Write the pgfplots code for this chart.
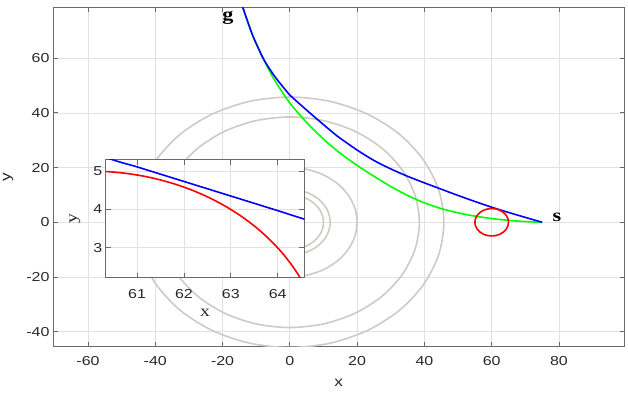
\documentclass[border=0pt]{standalone}
\usepackage{fontspec}
\setmainfont{Liberation Sans}[FakeStretch=1.23]
\newfontfamily\serif{Liberation Serif}[FakeStretch=1.23]
\usepackage{pgfplots}
\usepackage{pgfplotstable}
\pgfplotsset{compat=1.18}

\definecolor{axgray}{RGB}{105,105,105}
\definecolor{txtgray}{RGB}{40,40,40}
\definecolor{gridgray}{RGB}{225,225,225}
\definecolor{ringgray}{RGB}{207,202,195}

% path found by the planner (blue) and the reference path (green)
\pgfplotstableread{
x y
-15.2 83.0
-14.0 78.6
-11.3 69.1
-9.5 64.0
-7.65 59.3
-5.0 54.2
-2.9 50.8
0.0 46.5
1.6 44.7
5.0 41.0
8.0 37.8
10.0 35.7
13.0 32.6
15.0 30.7
20.0 26.4
25.0 22.6
30.0 19.5
35.0 16.8
40.0 14.4
45.0 12.1
50.0 9.8
55.0 7.6
60.0 5.49
61.0 5.11
62.0 4.73
63.0 4.35
64.0 3.97
65.0 3.59
70.0 1.78
75.0 0.0
}\bluepath

\pgfplotstableread{
x y
-15.2 83.0
-14.0 78.6
-11.3 69.1
-9.5 64.0
-7.65 59.2
-6.0 55.2
-4.0 50.9
0.0 43.6
5.0 36.5
10.0 30.4
15.0 25.2
20.0 20.8
25.0 16.8
30.0 13.1
35.0 9.8
40.0 7.1
45.0 5.0
50.0 3.45
55.0 2.25
60.0 1.35
65.0 0.7
70.0 0.25
75.0 0.0
}\greenpath

% obstacle around (60,0), r = 5 (starts at the hidden lower left)
\pgfplotstableread{
x y
55 0
55.170 -1.294
55.670 -2.5
56.464 -3.536
57.5 -4.330
58.706 -4.830
60 -5
61.294 -4.830
62.5 -4.330
63.536 -3.536
64.330 -2.5
64.830 -1.294
65 0
64.830 1.294
64.330 2.5
63.536 3.536
62.5 4.330
61.294 4.830
60 5
58.706 4.830
57.5 4.330
56.464 3.536
55.670 2.5
55.170 1.294
55 0
}\redcircle

\pgfplotstableread{
x y
64.698 1.710
64.532 2.113
64.330 2.5
64.096 2.868
63.830 3.214
63.536 3.536
63.214 3.830
62.868 4.096
62.5 4.330
62.113 4.532
61.710 4.698
61.294 4.830
60.868 4.924
60.436 4.981
60 5
59.564 4.981
}\redarc

\pgfplotsset{
  matlabstyle/.style={
    scale only axis,
    axis line style={axgray, line width=1pt},
    tick style={axgray, line width=0.8pt},
    tick align=inside,
    major tick length=5pt,
    grid=major,
    grid style={gridgray, line width=0.7pt},
    ticklabel style={font=\fontsize{13}{15}\selectfont, text=txtgray},
    /pgf/number format/assume math mode=true,
  },
  ring/.style={ringgray, line width=1.6pt, smooth},
}

\begin{document}
\begin{tikzpicture}
\useasboundingbox (-53pt,-46.3pt) rectangle (575pt,346.7pt);
\begin{axis}[matlabstyle,
  width=571.6pt, height=339.4pt,
  xmin=-70.4, xmax=99.5, ymin=-45.5, ymax=78.6,
  xtick={-60,-40,...,80}, ytick={-40,-20,...,60},
  xticklabel style={yshift=-6pt},
  xlabel={x}, ylabel={y},
  label style={font=\fontsize{14}{16}\selectfont, text=txtgray},
  xlabel style={at={(axis description cs:0.5,-0.1078)}, anchor=center},
  ylabel style={at={(axis description cs:-0.0787,0.5)}, anchor=center},
]
\addplot[ring] coordinates {(-45.8,0) (-44.24,-11.85) (-39.66,-22.9) (-32.39,-32.39) (-22.9,-39.66) (-11.85,-44.24) (0,-45.8) (11.85,-44.24) (22.9,-39.66) (32.39,-32.39) (39.66,-22.9) (44.24,-11.85) (45.8,0) (44.24,11.85) (39.66,22.9) (32.39,32.39) (22.9,39.66) (11.85,44.24) (0,45.8) (-11.85,44.24) (-22.9,39.66) (-32.39,32.39) (-39.66,22.9) (-44.24,11.85) (-45.8,0)};
\addplot[ring] coordinates {(-38.5,0) (-37.19,-9.96) (-33.34,-19.25) (-27.22,-27.22) (-19.25,-33.34) (-9.96,-37.19) (0,-38.5) (9.96,-37.19) (19.25,-33.34) (27.22,-27.22) (33.34,-19.25) (37.19,-9.96) (38.5,0) (37.19,9.96) (33.34,19.25) (27.22,27.22) (19.25,33.34) (9.96,37.19) (0,38.5) (-9.96,37.19) (-19.25,33.34) (-27.22,27.22) (-33.34,19.25) (-37.19,9.96) (-38.5,0)};
\addplot[ring] coordinates {(-20,0) (-19.32,-5.18) (-17.32,-10) (-14.14,-14.14) (-10,-17.32) (-5.18,-19.32) (0,-20) (5.18,-19.32) (10,-17.32) (14.14,-14.14) (17.32,-10) (19.32,-5.18) (20,0) (19.32,5.18) (17.32,10) (14.14,14.14) (10,17.32) (5.18,19.32) (0,20) (-5.18,19.32) (-10,17.32) (-14.14,14.14) (-17.32,10) (-19.32,5.18) (-20,0)};
\addplot[ring] coordinates {(-12,0) (-11.59,-3.11) (-10.39,-6) (-8.49,-8.49) (-6,-10.39) (-3.11,-11.59) (0,-12) (3.11,-11.59) (6,-10.39) (8.49,-8.49) (10.39,-6) (11.59,-3.11) (12,0) (11.59,3.11) (10.39,6) (8.49,8.49) (6,10.39) (3.11,11.59) (0,12) (-3.11,11.59) (-6,10.39) (-8.49,8.49) (-10.39,6) (-11.59,3.11) (-12,0)};
\addplot[ring] coordinates {(-10,0) (-9.66,-2.59) (-8.66,-5) (-7.07,-7.07) (-5,-8.66) (-2.59,-9.66) (0,-10) (2.59,-9.66) (5,-8.66) (7.07,-7.07) (8.66,-5) (9.66,-2.59) (10,0) (9.66,2.59) (8.66,5) (7.07,7.07) (5,8.66) (2.59,9.66) (0,10) (-2.59,9.66) (-5,8.66) (-7.07,7.07) (-8.66,5) (-9.66,2.59) (-10,0)};
\addplot[green, line width=1.6pt, smooth] table {\greenpath};
\addplot[blue, line width=1.6pt, smooth] table {\bluepath};
\addplot[red, line width=1.6pt, smooth] table {\redcircle};
\node[font=\serif\bfseries\fontsize{18}{20}\selectfont] at (axis cs:-18.4,74.6) {g};
\node[font=\serif\bfseries\fontsize{18}{20}\selectfont] at (axis cs:79.4,1.9) {s};
\end{axis}

\begin{axis}[matlabstyle,
  at={(52.7pt,69pt)}, anchor=south west,
  width=198.6pt, height=117.7pt,
  xmin=60.33, xmax=64.57, ymin=2.22, ymax=5.29,
  xtick={61,62,63,64}, ytick={3,4,5},
  axis background/.style={fill=white},
  xticklabel style={yshift=-8pt},
  xlabel={x}, ylabel={y},
  label style={font=\serif\fontsize{16}{18}\selectfont, text=txtgray},
  xlabel style={at={(axis description cs:0.5,-0.2974)}, anchor=center},
  ylabel style={at={(axis description cs:-0.1546,0.5)}, anchor=center},
]
\addplot[green, line width=1.6pt, smooth] table {\greenpath};
\addplot[blue, line width=1.6pt, smooth] table {\bluepath};
\addplot[red, line width=1.6pt, smooth] table {\redarc};
\end{axis}
\end{tikzpicture}
\end{document}
